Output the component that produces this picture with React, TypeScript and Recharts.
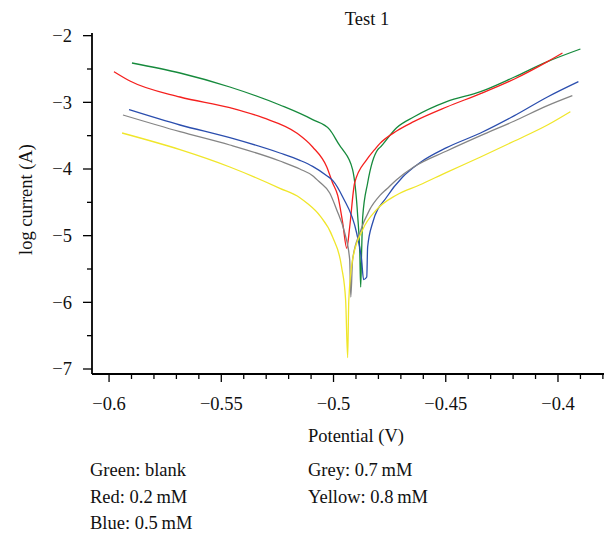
import { LineChart, Line, XAxis, YAxis } from "recharts";

// potential (V) and log current (A), per curve
const greenV = [-0.5898, -0.5684, -0.5462, -0.5239, -0.5093, -0.5017, -0.4972, -0.4959, -0.4915, -0.4892, -0.4883, -0.4879, -0.4875, -0.487, -0.4848, -0.4803, -0.4794, -0.4719, -0.4643, -0.4496, -0.4345, -0.4194, -0.4047, -0.39];
const greenI = [-2.41, -2.56, -2.77, -3.04, -3.26, -3.41, -3.65, -3.71, -4.01, -4.72, -5.26, -5.77, -5.26, -4.72, -4.21, -3.71, -3.68, -3.38, -3.22, -2.99, -2.84, -2.62, -2.39, -2.2];

const redV = [-0.5978, -0.5907, -0.5684, -0.5462, -0.5315, -0.5164, -0.5093, -0.503, -0.5004, -0.4981, -0.4959, -0.4941, -0.4928, -0.4906, -0.4852, -0.4817, -0.4794, -0.4719, -0.4643, -0.4496, -0.4345, -0.4194, -0.4047, -0.398];
const redI = [-2.54, -2.68, -2.92, -3.08, -3.23, -3.46, -3.67, -3.97, -4.21, -4.4, -4.81, -5.19, -4.87, -4.21, -3.86, -3.71, -3.62, -3.43, -3.29, -3.07, -2.87, -2.65, -2.39, -2.26];

const blueV = [-0.5911, -0.5684, -0.5462, -0.5239, -0.515, -0.5093, -0.503, -0.5004, -0.4959, -0.4897, -0.4875, -0.4866, -0.4852, -0.4848, -0.4826, -0.4763, -0.4692, -0.4617, -0.4496, -0.4345, -0.4194, -0.4047, -0.3909];
const blueI = [-3.11, -3.34, -3.53, -3.76, -3.87, -3.96, -4.1, -4.17, -4.42, -4.96, -5.36, -5.66, -5.62, -5.17, -4.81, -4.42, -4.12, -3.91, -3.68, -3.46, -3.2, -2.92, -2.69];

const greyV = [-0.5938, -0.5684, -0.5462, -0.5239, -0.515, -0.5093, -0.5061, -0.5017, -0.4986, -0.495, -0.4928, -0.4923, -0.4915, -0.4883, -0.4839, -0.4794, -0.4763, -0.4719, -0.4643, -0.4496, -0.4345, -0.4194, -0.4047, -0.3936];
const greyI = [-3.19, -3.44, -3.64, -3.88, -4.0, -4.1, -4.2, -4.36, -4.61, -4.96, -5.36, -5.92, -5.36, -4.96, -4.61, -4.4, -4.3, -4.16, -3.97, -3.73, -3.5, -3.28, -3.05, -2.9];

const yellowV = [-0.5942, -0.5684, -0.5462, -0.5239, -0.515, -0.5119, -0.5061, -0.5004, -0.4964, -0.4946, -0.4937, -0.4932, -0.4915, -0.487, -0.4808, -0.4719, -0.4617, -0.4496, -0.4345, -0.4194, -0.4047, -0.3945];
const yellowI = [-3.46, -3.71, -3.97, -4.29, -4.43, -4.51, -4.7, -5.02, -5.47, -5.97, -6.83, -5.97, -5.36, -4.91, -4.61, -4.39, -4.24, -4.05, -3.82, -3.58, -3.34, -3.14];

const xTicks = [-0.6, -0.59, -0.58, -0.57, -0.56, -0.55, -0.54, -0.53, -0.52, -0.51, -0.5, -0.49, -0.48, -0.47, -0.46, -0.45, -0.44, -0.43, -0.42, -0.41, -0.4, -0.39, -0.38];
const yTicks = [-2, -2.5, -3, -3.5, -4, -4.5, -5, -5.5, -6, -6.5, -7];

const legendLeft = ["Green: blank", "Red: 0.2\u2009mM", "Blue: 0.5\u2009mM"];
const legendRight = ["Grey: 0.7\u2009mM", "Yellow: 0.8\u2009mM"];

const FONT = '"Liberation Serif", "DejaVu Serif", serif';
const xDomain = [-0.6076, -0.3795];
const yDomain = [-7.075, -1.96];

const zip = (v: number[], i: number[]) => v.map((x, k) => ({ x, y: i[k] }));

const series = [
  { key: "green", color: "#168a3c", data: zip(greenV, greenI) },
  { key: "red", color: "#f5201e", data: zip(redV, redI) },
  { key: "blue", color: "#2b4eae", data: zip(blueV, blueI) },
  { key: "grey", color: "#858585", data: zip(greyV, greyI) },
  { key: "yellow", color: "#f0e62a", data: zip(yellowV, yellowI) },
];

const fmt = (v: number) => {
  const s = String(Math.abs(Math.round(v * 100) / 100));
  return v < 0 ? "\u2212" + s : s;
};

const isMajorX = (v: number) => Math.abs(v * 20 - Math.round(v * 20)) < 1e-6;
const isMajorY = (v: number) => Math.abs(v - Math.round(v)) < 1e-6;

function XTick({ x, y, payload }: any) {
  const major = isMajorX(payload.value);
  return (
    <g>
      <line x1={x} x2={x} y1={y} y2={y + (major ? 8 : 5)} stroke="#000" strokeWidth={1.3} />
      {major && (
        <text x={x} y={y + 36} textAnchor="middle" fontSize={18.5} fontFamily={FONT} fill="#111">
          {fmt(payload.value)}
        </text>
      )}
    </g>
  );
}

function YTick({ x, y, payload }: any) {
  const major = isMajorY(payload.value);
  return (
    <g>
      <line x1={x - (major ? 9 : 5)} x2={x} y1={y} y2={y} stroke="#000" strokeWidth={1.3} />
      {major && (
        <text x={x - 20} y={y} dy="0.34em" textAnchor="end" fontSize={18.5} fontFamily={FONT} fill="#111">
          {fmt(payload.value)}
        </text>
      )}
    </g>
  );
}

function XLabel({ viewBox }: any) {
  const cx = viewBox.x + viewBox.width / 2 + 8;
  return (
    <text x={cx} y={viewBox.y + 68} textAnchor="middle" fontSize={18.5} fontFamily={FONT} fill="#111">
      Potential (V)
    </text>
  );
}

function YLabel({ viewBox }: any) {
  const cx = 32;
  const cy = viewBox.y + viewBox.height / 2 - 4;
  return (
    <text x={cx} y={cy} transform={`rotate(-90 ${cx} ${cy})`} textAnchor="middle" fontSize={18.5} fontFamily={FONT} fill="#111">
      log current (A)
    </text>
  );
}

export default function App() {
  return (
    <div style={{ position: "absolute", left: 0, top: 0, width: 608, height: 537, background: "#fff", fontFamily: FONT }}>
      <div style={{ position: "absolute", left: 367, top: 8, transform: "translateX(-50%)", fontSize: 18.5, lineHeight: "22px", color: "#111", whiteSpace: "nowrap" }}>
        Test 1
      </div>
      <LineChart width={608} height={450} margin={{ top: 33, right: 4, bottom: 0, left: 0 }}>
        <XAxis
          dataKey="x"
          type="number"
          domain={xDomain}
          allowDataOverflow
          ticks={xTicks}
          interval={0}
          height={76}
          tickSize={0}
          tickMargin={0}
          tickLine={false}
          tick={<XTick />}
          axisLine={{ stroke: "#000", strokeWidth: 1.8 }}
          label={<XLabel />}
        />
        <XAxis xAxisId="top" orientation="top" dataKey="x" type="number" domain={xDomain} allowDataOverflow height={0} tick={false} tickLine={false} axisLine={{ stroke: "#000", strokeWidth: 1.8 }} />
        <YAxis
          type="number"
          domain={yDomain}
          allowDataOverflow
          ticks={yTicks}
          interval={0}
          width={92}
          tickSize={0}
          tickMargin={0}
          tickLine={false}
          tick={<YTick />}
          axisLine={{ stroke: "#000", strokeWidth: 1.8 }}
          label={<YLabel />}
        />
        <YAxis yAxisId="right" orientation="right" type="number" domain={yDomain} allowDataOverflow width={0} tick={false} tickLine={false} axisLine={{ stroke: "#000", strokeWidth: 1.8 }} />
        {series.map((s) => (
          <Line
            key={s.key}
            data={s.data}
            dataKey="y"
            type="monotone"
            stroke={s.color}
            strokeWidth={1.3}
            dot={false}
            activeDot={false}
            isAnimationActive={false}
          />
        ))}
      </LineChart>
      <div style={{ position: "absolute", left: 90, top: 457, fontSize: 18.5, lineHeight: "26.5px", color: "#111" }}>
        {legendLeft.map((t) => (
          <div key={t}>{t}</div>
        ))}
      </div>
      <div style={{ position: "absolute", left: 308, top: 457, fontSize: 18.5, lineHeight: "26.5px", color: "#111" }}>
        {legendRight.map((t) => (
          <div key={t}>{t}</div>
        ))}
      </div>
    </div>
  );
}
